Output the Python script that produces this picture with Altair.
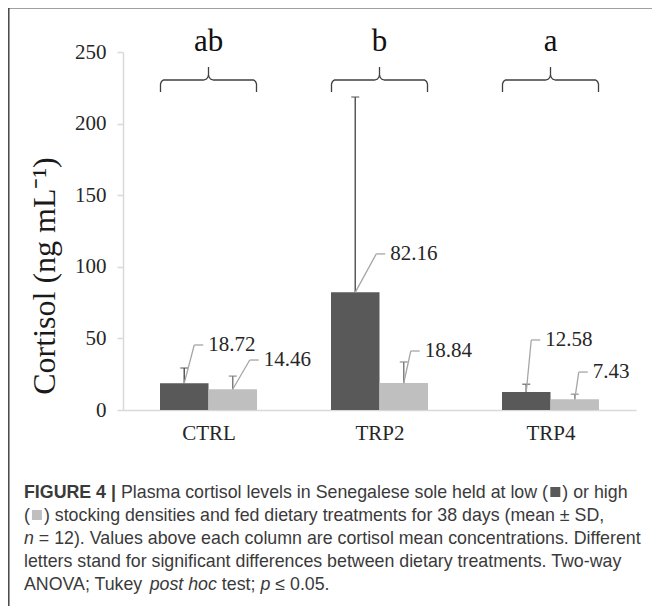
import altair as alt
import pandas as pd

# ---------------- data ----------------
categories = ["CTRL", "TRP2", "TRP4"]
mean_low = [18.72, 82.16, 12.58]
mean_high = [14.46, 18.84, 7.43]
sd_low = [10.6, 136.4, 5.4]
sd_high = [9.2, 14.7, 3.6]
letters = ["ab", "b", "a"]
# heights (value units) at which the data labels were placed in the figure
label_at_low = [45.4, 109.0, 48.9]
label_at_high = [34.9, 41.2, 26.5]
y_ticks = [0, 50, 100, 150, 200, 250]

# ---------------- layout / style ----------------
leader_px_low = [10, 21, 5]
leader_px_high = [17, 7, 4]
W, H = 513, 358
X_MAX, Y_MAX = len(categories), 250
UX = X_MAX / W
UY = Y_MAX / H
HALF_BAR = 24.25 * UX
PLOT_LEFT, PLOT_BOTTOM = 123, 410
DARK, LIGHT = "#595959", "#bfbfbf"
SERIF = "Liberation Serif"
SANS = "Liberation Sans"

rows = []
for i, c in enumerate(categories):
    for g, means, sds, lab, ldx, side in [
        ("low", mean_low, sd_low, label_at_low, leader_px_low, -1),
        ("high", mean_high, sd_high, label_at_high, leader_px_high, 1),
    ]:
        pos = i + 0.5 + side * HALF_BAR
        m = means[i]
        rows.append(dict(cat=c, density=g, pos=pos, x0=pos - HALF_BAR, x1=pos + HALF_BAR,
                         mean=m, top=m + sds[i], label_y=lab[i],
                         lx=pos + ldx[i] * UX, lx2=pos + (ldx[i] + 9) * UX,
                         label=f"{m:.2f}"))
df = pd.DataFrame(rows)

# braces above each group
brace_shape = [(-48, -12), (-48, -4), (-47, -1.5), (-45, 0), (-5, 0), (-2, 1), (-0.6, 3), (0, 5), (0, 13),
               (0, 5), (0.6, 3), (2, 1), (5, 0), (45, 0), (47, -1.5), (48, -4), (48, -12)]
BRACE_BASE = (PLOT_BOTTOM - 80) * UY
brace_rows = []
for i, c in enumerate(categories):
    for k, (dx, dy) in enumerate(brace_shape):
        brace_rows.append(dict(cat=c, k=k, bx=i + 0.5 + dx * UX, by=BRACE_BASE + dy * UY))
brace_df = pd.DataFrame(brace_rows)
letter_df = pd.DataFrame(dict(cat=categories, letter=letters, lx=[i + 0.5 for i in range(len(categories))]))

# caption layout with Helvetica metrics (Liberation Sans is metric compatible)
up = "ABCDEFGHIJKLMNOPQRSTUVWXYZ"
lo = "abcdefghijklmnopqrstuvwxyz"
HR = dict(zip(up, [667, 667, 722, 722, 667, 611, 778, 722, 278, 500, 667, 556, 833, 722, 778, 667, 778, 722, 667, 611, 722, 667, 944, 667, 667, 611]))
HR.update(zip(lo, [556, 556, 500, 556, 556, 278, 556, 556, 222, 222, 500, 222, 833, 556, 556, 556, 556, 333, 500, 278, 556, 500, 722, 500, 500, 500]))
HR.update(zip(" ()!,-./:;=|±≤", [278, 333, 333, 278, 278, 333, 278, 278, 278, 278, 584, 260, 584, 549]))
HR.update({d: 556 for d in "0123456789"})
HB = dict(zip(up, [722, 722, 722, 722, 667, 611, 778, 722, 278, 556, 722, 611, 833, 722, 778, 667, 778, 722, 667, 611, 722, 667, 944, 667, 667, 611]))
HB.update(zip(lo, [556, 611, 556, 611, 556, 333, 611, 611, 278, 278, 556, 278, 889, 611, 611, 611, 611, 389, 556, 333, 611, 556, 778, 556, 556, 500]))
HB.update({" ": 278, "|": 280})
HB.update({d: 556 for d in "0123456789"})
FS = 17.8
SQ_SLOT = 14


def wid(s, bold=False):
    t = HB if bold else HR
    return sum(t.get(ch, 556) for ch in s) * FS / 1000


caption_lines = [
    [("FIGURE 4 | ", "b"), ("Plasma cortisol levels in Senegalese sole held at low (", "n"), ("", "sq1"), (") or high", "n")],
    [("(", "n"), ("", "sq2"), (") stocking densities and fed dietary treatments for 38 days (mean ± SD,", "n")],
    [("n", "i"), (" = 12). Values above each column are cortisol mean concentrations. Different", "n")],
    [("letters stand for significant differences between dietary treatments. Two-way", "n")],
    [("ANOVA; Tukey ", "n"), ("post hoc", "i"), (" test; ", "n"), ("p", "i"), (" ≤ 0.05.", "n")],
]
cap_rows = []
for li, runs in enumerate(caption_lines):
    cur = 24.0
    py = 493 + 23 * li
    for text, st in runs:
        if st.startswith("sq"):
            cap_rows.append(dict(kind=st, text="", cx=(cur + SQ_SLOT / 2 - PLOT_LEFT) * UX, cy=(PLOT_BOTTOM - py + 1) * UY))
            cur += SQ_SLOT
            continue
        bold = st == "b"
        lead = len(text) - len(text.lstrip(" "))
        cur += lead * wid(" ", bold)
        body = text.lstrip(" ")
        cap_rows.append(dict(kind=st, text=body.rstrip(" "), cx=(cur - PLOT_LEFT) * UX, cy=(PLOT_BOTTOM - py) * UY))
        cur += wid(body, bold)
cap_df = pd.DataFrame(cap_rows)

# ---------------- chart ----------------
xs = alt.Scale(domain=[0, X_MAX], nice=False, zero=False)
ys = alt.Scale(domain=[0, Y_MAX], nice=False)
label_expr = "[" + ",".join(f"'{c}'" for c in categories) + "][floor(datum.value)]"
AX = alt.Axis(values=[i + 0.5 for i in range(len(categories))], labelExpr=label_expr,
              ticks=False, grid=False, domainColor="#d9d9d9", domainWidth=1.5,
              labelFont=SERIF, labelFontSize=21, labelColor="#262626",
              labelPadding=12, title=None)
AY = alt.Axis(values=y_ticks, grid=False, domainColor="#d9d9d9", domainWidth=1.5,
              tickColor="#d9d9d9", tickSize=6, tickWidth=1.5, labelPadding=11,
              labelFont=SERIF, labelFontSize=21, labelColor="#262626", title=None)


def X(f):
    return alt.X(f, scale=xs, axis=AX, title=None)


def Y(f):
    return alt.Y(f, scale=ys, axis=AY, title=None)


is_low = alt.datum.density == "low"

base = alt.Chart(df)
bars = base.mark_bar().encode(
    x=X("x0:Q"), x2="x1:Q", y=Y("mean:Q"), y2=alt.datum(0),
    color=alt.condition(is_low, alt.value(DARK), alt.value(LIGHT)),
)
err = base.mark_rule(strokeWidth=1.5).encode(
    x=X("pos:Q"), y=Y("mean:Q"), y2="top:Q",
    color=alt.condition(is_low, alt.value(DARK), alt.value("#808080")),
)
caps = base.mark_tick(orient="horizontal", size=8, thickness=1.5).encode(
    x=X("pos:Q"), y=Y("top:Q"),
    color=alt.condition(is_low, alt.value(DARK), alt.value("#808080")),
)
lead1 = base.mark_rule(color="#a6a6a6", strokeWidth=1.3).encode(
    x=X("pos:Q"), y=Y("mean:Q"), x2="lx:Q", y2="label_y:Q")
lead2 = base.mark_rule(color="#a6a6a6", strokeWidth=1.3).encode(
    x=X("lx:Q"), x2="lx2:Q", y=Y("label_y:Q"))
vlabels = base.mark_text(align="left", baseline="middle", dx=5, font=SERIF, fontSize=21, color="#262626").encode(
    x=X("lx2:Q"), y=Y("label_y:Q"), text="label:N")

braces = alt.Chart(brace_df).mark_line(color="#404040", strokeWidth=1.3).encode(
    x=X("bx:Q"), y=Y("by:Q"), detail="cat:N", order="k:Q")
letter_t = alt.Chart(letter_df).mark_text(font=SERIF, fontSize=31, color="#111111", align="center", baseline="middle").encode(
    x=X("lx:Q"), y=alt.value(-10), text="letter:N")

one = pd.DataFrame({"k": [0]})
ytitle = alt.Chart(one).mark_text(text="Cortisol (ng mL⁻¹)", angle=270, font=SERIF, fontSize=32,
                                  color="#1a1a1a", align="center", baseline="middle").encode(
    x=alt.value(-78), y=alt.value(224))

cap_layers = []
for kind, weight, style in [("n", "normal", "normal"), ("b", "bold", "normal"), ("i", "normal", "italic")]:
    cap_layers.append(
        alt.Chart(cap_df).transform_filter(alt.datum.kind == kind).mark_text(
            align="left", baseline="middle", font=SANS, fontSize=FS, fontWeight=weight, fontStyle=style,
            color="#3a3a3a").encode(x=X("cx:Q"), y=Y("cy:Q"), text="text:N"))
squares = alt.Chart(cap_df).transform_filter("indexof(datum.kind, 'sq') == 0").mark_point(
    shape="square", filled=True, size=100, opacity=1).encode(
    x=X("cx:Q"), y=Y("cy:Q"),
    color=alt.condition(alt.datum.kind == "sq1", alt.value(DARK), alt.value(LIGHT)))

border_l = alt.Chart(one).mark_rule(color="#444444", strokeWidth=1.5).encode(
    x=alt.value(-114.2), y=alt.value(-44.2), y2=alt.value(560))
border_t = alt.Chart(one).mark_rule(color="#444444", strokeWidth=1.5).encode(
    x=alt.value(-115), x2=alt.value(540), y=alt.value(-44.2))

chart = alt.layer(bars, err, caps, lead1, lead2, vlabels, braces, letter_t, ytitle, *cap_layers, squares,
                  border_l, border_t).properties(
    width=W, height=H,
    padding={"left": 115, "top": 44, "right": 16, "bottom": 196},
    autosize=alt.AutoSizeParams(type="none"),
).configure_view(stroke=None)

chart.save("out.html", embed_options={"renderer": "svg", "actions": False})
